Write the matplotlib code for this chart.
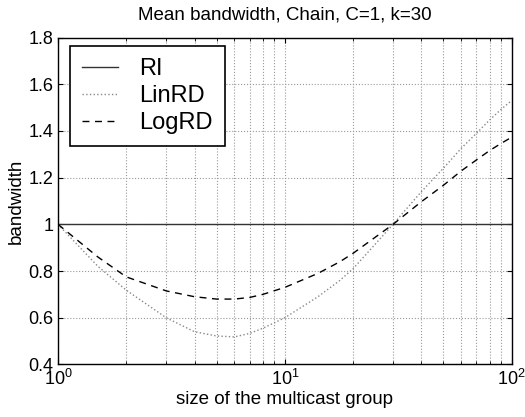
import matplotlib
matplotlib.use('Agg')
import matplotlib.pyplot as plt
from matplotlib import rcParams
import numpy as np

rcParams['font.family'] = ['Liberation Sans', 'DejaVu Sans']
rcParams['font.size'] = 13

# values
group_size = [1, 1.5, 2, 3, 4, 5, 6, 7, 8, 10, 14, 17.5, 20, 30, 40, 50, 60, 70, 80, 90, 100]
ri = [1.0] * len(group_size)
lin_rd = [1.0, 0.82, 0.718, 0.60, 0.54, 0.522, 0.518, 0.533, 0.555, 0.60, 0.69, 0.76, 0.81,
          1.0, 1.14, 1.24, 1.326, 1.39, 1.447, 1.493, 1.53]
log_rd = [1.0, 0.86, 0.775, 0.715, 0.69, 0.68, 0.68, 0.687, 0.70, 0.73, 0.79, 0.84, 0.876,
          1.0, 1.097, 1.167, 1.229, 1.276, 1.316, 1.347, 1.373]

fig = plt.figure(figsize=(5.25, 4.17), dpi=100)
ax = fig.add_axes([0.1105, 0.126, 0.864, 0.784])

ax.semilogx(group_size, ri, '-', color='#333333', lw=1.0, label='RI')
ax.semilogx(group_size, lin_rd, ':', color='#888888', lw=1.0, label='LinRD')
ax.semilogx(group_size, log_rd, '--', color='black', lw=1.0, dashes=(5, 4), label='LogRD')

ax.set_xlim(1, 100)
ax.set_ylim(0.4, 1.8)
ax.set_yticks([0.4, 0.6, 0.8, 1, 1.2, 1.4, 1.6, 1.8])
ax.set_yticklabels(['0.4', '0.6', '0.8', '1', '1.2', '1.4', '1.6', '1.8'])
ax.grid(True, which='both', axis='x', linestyle=':', color='#999999', lw=0.8)
ax.grid(True, which='major', axis='y', linestyle=':', color='#999999', lw=0.8)
ax.tick_params(which='both', direction='in', top=True, right=True)
ax.tick_params(axis='y', which='minor', left=False, right=False)
for s in ax.spines.values():
    s.set_linewidth(1.0)

ax.set_title('Mean bandwidth, Chain, C=1, k=30', fontsize=13.5, pad=13)
ax.set_xlabel('size of the multicast group', fontsize=13.5, labelpad=1)
ax.set_ylabel('bandwidth', fontsize=13.5, labelpad=2)

leg = ax.legend(loc='upper left', fontsize=17, fancybox=False, framealpha=1,
                edgecolor='black', handlelength=1.55, handletextpad=0.9,
                borderpad=0.5, labelspacing=0.22, borderaxespad=0,
                bbox_to_anchor=(0.026, 0.974))
leg.get_frame().set_linewidth(1.2)

plt.savefig('out.png', dpi=100)
